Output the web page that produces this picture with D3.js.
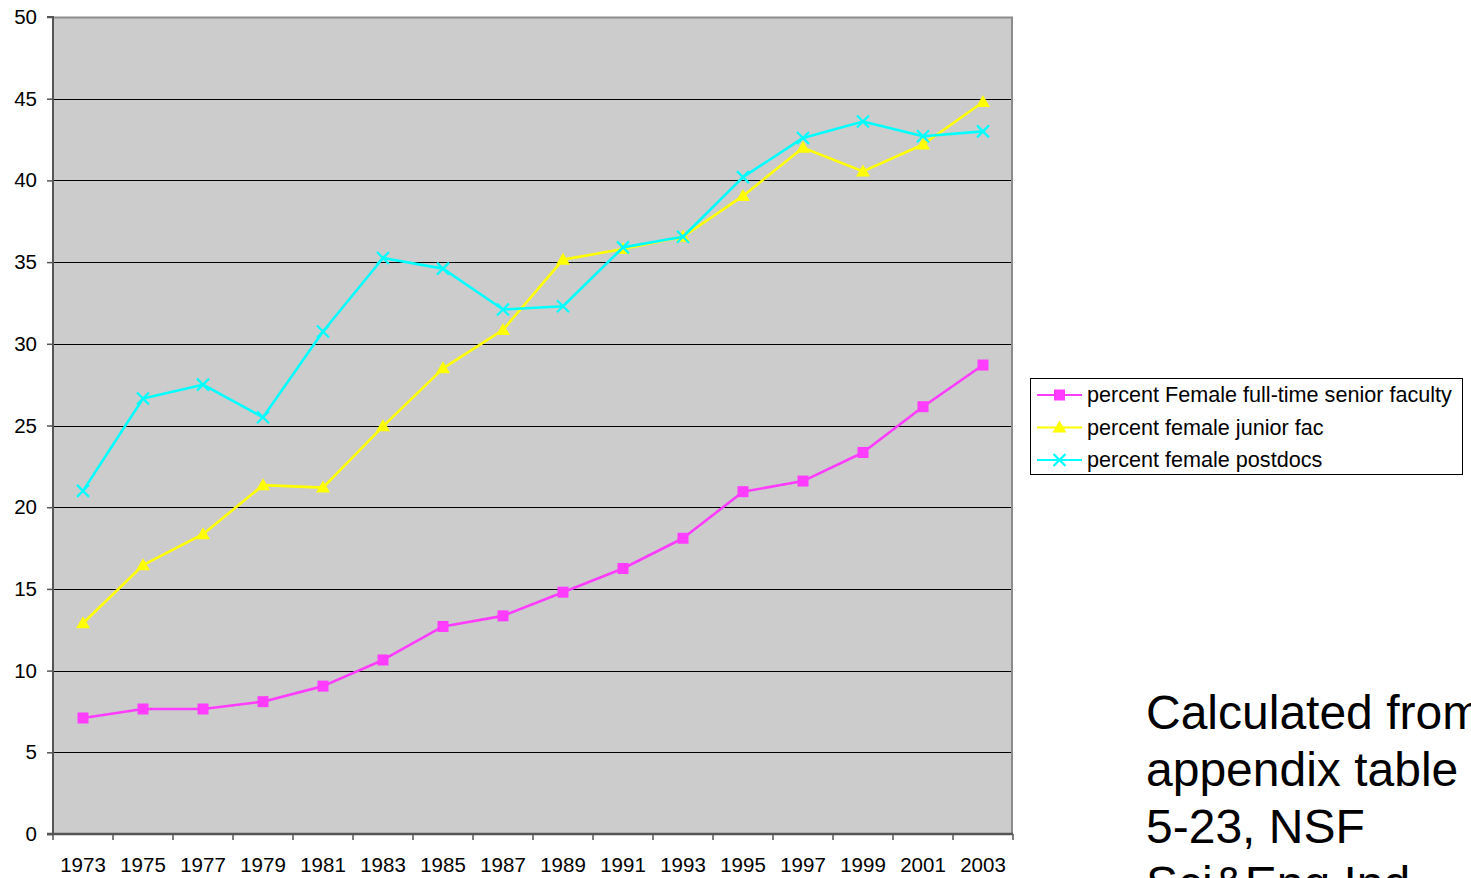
<!DOCTYPE html>
<html>
<head>
<meta charset="utf-8">
<script src="https://cdn.jsdelivr.net/npm/d3@7"></script>
<style>
  html, body { margin: 0; padding: 0; background: #fff; overflow: hidden; }
  svg { display: block; font-family: "Liberation Sans", Arial, sans-serif; }
</style>
</head>
<body>
<svg id="chart" width="1471" height="878"></svg>
<script>
// Years along the category axis
const years = ["1973","1975","1977","1979","1981","1983","1985","1987","1989","1991","1993","1995","1997","1999","2001","2003"];

// Percent female, by group
const seniorFaculty = [7.1, 7.65, 7.65, 8.1, 9.05, 10.65, 12.7, 13.35, 14.8, 16.25, 18.1, 20.95, 21.6, 23.35, 26.15, 28.7];
const juniorFaculty = [12.9, 16.45, 18.35, 21.35, 21.2, 24.95, 28.5, 30.85, 35.15, 35.8, 36.55, 39.05, 42.0, 40.55, 42.2, 44.8];
const postdocs      = [21.0, 26.65, 27.5, 25.5, 30.75, 35.25, 34.6, 32.1, 32.3, 35.9, 36.55, 40.2, 42.6, 43.6, 42.7, 43.0];

const yTicks = [0, 5, 10, 15, 20, 25, 30, 35, 40, 45, 50];

const seriesNames = [
  "percent Female full-time senior faculty",
  "percent female junior fac",
  "percent female postdocs"
];
const noteLines = ["Calculated from", "appendix table", "5-23, NSF", "Sci&Eng Ind."];

const series = [
  { name: seriesNames[0], values: seniorFaculty, color: "#ff3cff", marker: "square" },
  { name: seriesNames[1], values: juniorFaculty, color: "#ffff00", marker: "triangle" },
  { name: seriesNames[2], values: postdocs,      color: "#00ffff", marker: "cross" }
];

const svg = d3.select("#chart");
const plot = { left: 53, top: 17, right: 1013, bottom: 834 };

const x = d3.scaleBand().domain(years).range([plot.left, plot.right]);
const y = d3.scaleLinear().domain([0, 50]).range([plot.bottom, plot.top]);
const cx = d => x(d) + x.bandwidth() / 2;

// Plot background
svg.append("rect")
  .attr("x", plot.left).attr("y", plot.top)
  .attr("width", plot.right - plot.left).attr("height", plot.bottom - plot.top)
  .attr("fill", "#cccccc");

// Horizontal gridlines
svg.append("g")
  .selectAll("line")
  .data(yTicks.filter(t => t > 0 && t < 50))
  .join("line")
  .attr("x1", plot.left).attr("x2", plot.right)
  .attr("y1", d => Math.round(y(d)) + 0.5).attr("y2", d => Math.round(y(d)) + 0.5)
  .attr("stroke", "#000").attr("stroke-width", 1.2);

// Top and right frame
svg.append("path")
  .attr("d", `M${plot.left},${plot.top + 0.5}H${plot.right - 1}V${plot.bottom}`)
  .attr("fill", "none").attr("stroke", "#8c8c8c").attr("stroke-width", 2);

// Y axis
const yAxis = d3.axisLeft(y).tickValues(yTicks).tickSize(6).tickPadding(10).tickFormat(d3.format("d"));
const gy = svg.append("g").attr("transform", `translate(${plot.left},0)`).call(yAxis);
gy.select(".domain").attr("stroke", "#555").attr("stroke-width", 2).attr("d", `M-6,${plot.top}H0V${plot.bottom}H-6`);
gy.selectAll(".tick line").attr("stroke", "#555").attr("stroke-width", 1.5);
gy.selectAll("text").attr("font-size", 20.5).attr("fill", "#000")
  .attr("font-family", "Liberation Sans, Arial, sans-serif");

// X axis with ticks at category boundaries
const boundaries = years.map(d => x(d)).concat([plot.right]);
const gx = svg.append("g");
gx.append("line")
  .attr("x1", plot.left - 6).attr("x2", plot.right)
  .attr("y1", plot.bottom).attr("y2", plot.bottom)
  .attr("stroke", "#555").attr("stroke-width", 2.5);
gx.selectAll("line.tk").data(boundaries).join("line").attr("class", "tk")
  .attr("x1", d => d).attr("x2", d => d)
  .attr("y1", plot.bottom).attr("y2", plot.bottom + 6)
  .attr("stroke", "#555").attr("stroke-width", 1.5);
gx.selectAll("text").data(years).join("text")
  .attr("x", d => cx(d)).attr("y", 872)
  .attr("text-anchor", "middle").attr("font-size", 20.5).attr("fill", "#000")
  .text(d => d);

// Marker shapes
function drawMarker(g, type, color, px, py) {
  if (type === "square") {
    g.append("rect").attr("x", px - 5.5).attr("y", py - 5.5).attr("width", 11).attr("height", 11).attr("fill", color);
  } else if (type === "triangle") {
    g.append("path").attr("d", `M${px},${py - 7}L${px + 7},${py + 5}L${px - 7},${py + 5}Z`).attr("fill", color);
  } else {
    g.append("path").attr("d", `M${px - 6},${py - 6}L${px + 6},${py + 6}M${px - 6},${py + 6}L${px + 6},${py - 6}`)
      .attr("stroke", color).attr("stroke-width", 2.2).attr("fill", "none");
  }
}

const line = d3.line().x((d, i) => cx(years[i])).y(d => y(d));

series.forEach(s => {
  const g = svg.append("g");
  g.append("path").attr("d", line(s.values))
    .attr("fill", "none").attr("stroke", s.color).attr("stroke-width", 2.6).attr("stroke-linejoin", "round");
  s.values.forEach((v, i) => drawMarker(g, s.marker, s.color, cx(years[i]), y(v)));
});

// Legend
const legend = svg.append("g");
legend.append("rect")
  .attr("x", 1030.5).attr("y", 378.5).attr("width", 432).attr("height", 96)
  .attr("fill", "#fff").attr("stroke", "#000").attr("stroke-width", 1);
series.forEach((s, i) => {
  const ly = 395 + i * 32.5;
  const lg = legend.append("g");
  lg.append("line").attr("x1", 1037).attr("x2", 1082).attr("y1", ly).attr("y2", ly)
    .attr("stroke", s.color).attr("stroke-width", 2);
  drawMarker(lg, s.marker, s.color, 1059.5, ly);
  lg.append("text").attr("x", 1087).attr("y", ly + 7)
    .attr("font-size", 21.6).attr("fill", "#000").text(s.name);
});

// Source note
svg.append("g").selectAll("text").data(noteLines).join("text")
  .attr("x", 1146).attr("y", (d, i) => 729 + i * 57)
  .attr("font-size", 48).attr("fill", "#000").text(d => d);
</script>
</body>
</html>
